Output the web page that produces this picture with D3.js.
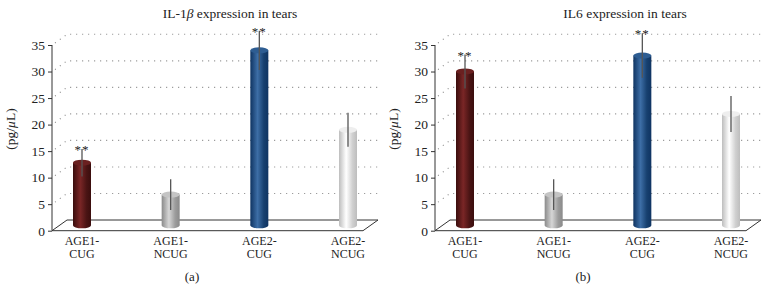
<!DOCTYPE html>
<html><head><meta charset="utf-8">
<script src="https://cdn.jsdelivr.net/npm/d3@7"></script>
<style>body{margin:0;background:#fff}svg{display:block}text{font-family:"Liberation Serif","DejaVu Serif",serif;fill:#222}</style>
</head><body><svg id="c" width="771" height="293"></svg>
<script>
const categories = ["AGE1-CUG", "AGE1-NCUG", "AGE2-CUG", "AGE2-NCUG"];
const categoryLines = [["AGE1-", "CUG"], ["AGE1-", "NCUG"], ["AGE2-", "CUG"], ["AGE2-", "NCUG"]];
const il1bValues = [11.8, 5.8, 33, 18];
const il1bErrors = [2.6, 2.9, 3.7, 3.2];
const il1bSignificant = [true, false, true, false];
const il6Values = [29, 5.8, 32, 21];
const il6Errors = [3.2, 2.9, 4.2, 3.4];
const il6Significant = [true, false, true, false];
const yTicks = [0, 5, 10, 15, 20, 25, 30, 35];
const panelLabels = ["(a)", "(b)"];

const svg = d3.select("#c");
const defs = svg.append("defs");
const barColors = [
  ["#3a0d0d", "#7a2626", "#4a1414"],
  ["#8a8a8a", "#d6d6d6", "#9c9c9c"],
  ["#0f3462", "#3d6ea6", "#17406f"],
  ["#bdbdbd", "#ffffff", "#d0d0d0"]
];
const topColors = ["#6a2020", "#c4c4c4", "#2e5d92", "#eeeeee"];
barColors.forEach((c, i) => {
  const g = defs.append("linearGradient").attr("id", "g" + i).attr("x1", 0).attr("x2", 1).attr("y1", 0).attr("y2", 0);
  g.append("stop").attr("offset", "0%").attr("stop-color", c[0]);
  g.append("stop").attr("offset", "40%").attr("stop-color", c[1]);
  g.append("stop").attr("offset", "75%").attr("stop-color", c[2]);
  g.append("stop").attr("offset", "100%").attr("stop-color", c[0]);
});

const dx = 15, dy = -10.7;
const panels = [
  {x0: 52, titleX: 230, labelX: 192, title: ["IL-1", "β", " expression in tears"], values: il1bValues, errors: il1bErrors, sig: il1bSignificant, label: panelLabels[0]},
  {x0: 435, titleX: 625, labelX: 583, title: ["IL6", "", " expression in tears"], values: il6Values, errors: il6Errors, sig: il6Significant, label: panelLabels[1]}
];

panels.forEach(p => {
  const g = svg.append("g");
  const x0 = p.x0, x1 = x0 + 311;
  const y = d3.scaleLinear().domain([0, 35]).range([230.7, 45]);
  const x = d3.scalePoint().domain(categories).range([x0 + 30, x1 - 15]);

  // gridlines (dotted, on back wall)
  yTicks.filter(t => t > 0).forEach(t => {
    g.append("path")
      .attr("d", `M${x0 + 3},${y(t) - 2}L${x0 + dx},${y(t) + dy}L${x1 + dx},${y(t) + dy}`)
      .attr("fill", "none").attr("stroke", "#888").attr("stroke-width", 1.1)
      .attr("stroke-dasharray", "1,5");
  });
  // floor
  g.append("path")
    .attr("d", `M${x0},${y(0)}L${x0 + dx},${y(0) + dy}L${x1 + dx},${y(0) + dy}L${x1},${y(0)}Z`)
    .attr("fill", "none").attr("stroke", "#333").attr("stroke-width", 1);

  // y axis
  const axis = d3.axisLeft(y).tickValues(yTicks).tickSize(4).tickPadding(3);
  const ag = g.append("g").attr("transform", `translate(${x0},0)`).call(axis);
  ag.select(".domain").attr("stroke", "#333").attr("d", `M-0,${y(35)}V${y(0)}`);
  ag.selectAll(".tick line").attr("stroke", "#333");
  ag.selectAll(".tick text").attr("font-size", 13.5).attr("font-family", "Liberation Serif").attr("fill", "#222");

  // bars
  const bw = 18, ry = 3;
  const zeroY = y(0) + dy / 2;
  categories.forEach((c, i) => {
    const cx = x(c);
    const v = p.values[i];
    const topY = zeroY - (y(0) - y(v));
    const bg = g.append("g");
    bg.append("ellipse").attr("cx", cx).attr("cy", zeroY).attr("rx", bw / 2).attr("ry", ry).attr("fill", `url(#g${i})`);
    bg.append("rect").attr("x", cx - bw / 2).attr("y", topY).attr("width", bw).attr("height", zeroY - topY).attr("fill", `url(#g${i})`);
    bg.append("ellipse").attr("cx", cx).attr("cy", topY).attr("rx", bw / 2).attr("ry", ry).attr("fill", topColors[i]);
    // error bar
    const e = p.errors[i];
    const eTop = zeroY - (y(0) - y(v + e));
    const eBot = zeroY - (y(0) - y(v - e));
    g.append("line").attr("x1", cx).attr("x2", cx).attr("y1", eTop).attr("y2", eBot)
      .attr("stroke", "#555").attr("stroke-width", 1.3);
    if (p.sig[i]) {
      g.append("text").attr("x", cx).attr("y", eTop + 5).attr("text-anchor", "middle")
        .attr("font-size", 13).attr("letter-spacing", 1).text("**");
    }
    categoryLines[i].forEach((ln, k) => {
      g.append("text").attr("text-anchor", "middle").attr("font-size", 12)
        .attr("x", cx).attr("y", 244.5 + k * 13.8).text(ln);
    });
  });

  // title
  const tt = g.append("text").attr("x", p.titleX).attr("y", 18).attr("text-anchor", "middle").attr("font-size", 13.5);
  tt.append("tspan").text(p.title[0]);
  if (p.title[1]) tt.append("tspan").attr("font-style", "italic").text(p.title[1]);
  tt.append("tspan").text(p.title[2]);

  // y label
  const yl = g.append("text").attr("transform", `translate(${x0 - 37},${129}) rotate(-90)`)
    .attr("text-anchor", "middle").attr("font-size", 13.5);
  yl.append("tspan").text("(pg/");
  yl.append("tspan").attr("font-style", "italic").text("μ");
  yl.append("tspan").text("L)");

  // panel label
  g.append("text").attr("x", p.labelX).attr("y", 281).attr("text-anchor", "middle").attr("font-size", 13).text(p.label);
});
</script></body></html>
